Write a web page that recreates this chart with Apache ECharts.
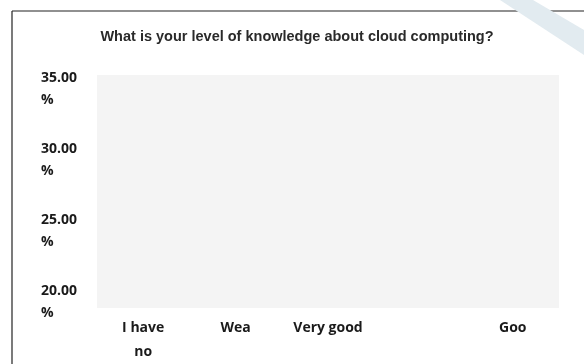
<!DOCTYPE html>
<html>
<head>
<meta charset="utf-8">
<script src="https://cdn.jsdelivr.net/npm/echarts@6/dist/echarts.min.js"></script>
<style>html,body{margin:0;padding:0;background:#fff;}#c{width:584px;height:364px;}</style>
</head>
<body>
<div id="c"></div>
<script>
var titleText = 'What is your level of knowledge about cloud computing?';
var categories = ['I have\nno', 'Wea', 'Very good', '', 'Goo'];
var values = [null, null, null, null, null];
var yMin = 20, yMax = 35, yStep = 5;

var chart = echarts.init(document.getElementById('c'), null, {renderer: 'canvas'});
chart.setOption({
  backgroundColor: '#ffffff',
  animation: false,
  title: {
    text: titleText,
    left: 292, top: 24, textAlign: 'center',
    textStyle: {fontFamily: 'Liberation Sans', fontSize: 14.5, fontWeight: 'bold', color: '#2a2a2a'}
  },
  graphic: [
    {type: 'line', shape: {x1: 12, y1: 11, x2: 584, y2: 11}, style: {stroke: '#222', lineWidth: 1.2}},
    {type: 'line', shape: {x1: 12, y1: 11, x2: 12, y2: 364}, style: {stroke: '#222', lineWidth: 1.2}},
    {type: 'polygon', shape: {points: [[500, 0], [533, 0], [584, 30], [584, 55]]}, style: {fill: '#e2ebf0'}}
  ],
  grid: [
    {left: 97, right: 25, top: 75, bottom: 56, show: true, backgroundColor: '#f4f4f4', borderWidth: 0},
    {left: 97, right: 25, top: 89, bottom: 59, show: false}
  ],
  xAxis: [
    {gridIndex: 0, type: 'category', data: categories, show: false},
    {gridIndex: 1, type: 'category', data: categories,
      axisLine: {show: false}, axisTick: {show: false},
      axisLabel: {interval: 0, margin: 14, color: '#1a1a1a', fontFamily: 'Open Sans', fontSize: 14, fontWeight: 'bold', lineHeight: 24, verticalAlign: 'top'}
    }
  ],
  yAxis: [
    {gridIndex: 0, type: 'value', show: false, min: yMin, max: yMax, interval: yStep},
    {gridIndex: 1, type: 'value', min: yMin, max: yMax, interval: yStep,
      axisLine: {show: false}, axisTick: {show: false}, splitLine: {show: false},
      axisLabel: {align: 'left', margin: 56, color: '#1a1a1a', fontFamily: 'Open Sans', fontSize: 14, fontWeight: 'bold', lineHeight: 22,
        formatter: function (v) { return v.toFixed(2) + '\n%'; }}
    }
  ],
  series: [
    {type: 'bar', xAxisIndex: 1, yAxisIndex: 1, data: values, itemStyle: {color: '#4472c4'}}
  ]
});
</script>
</body>
</html>
